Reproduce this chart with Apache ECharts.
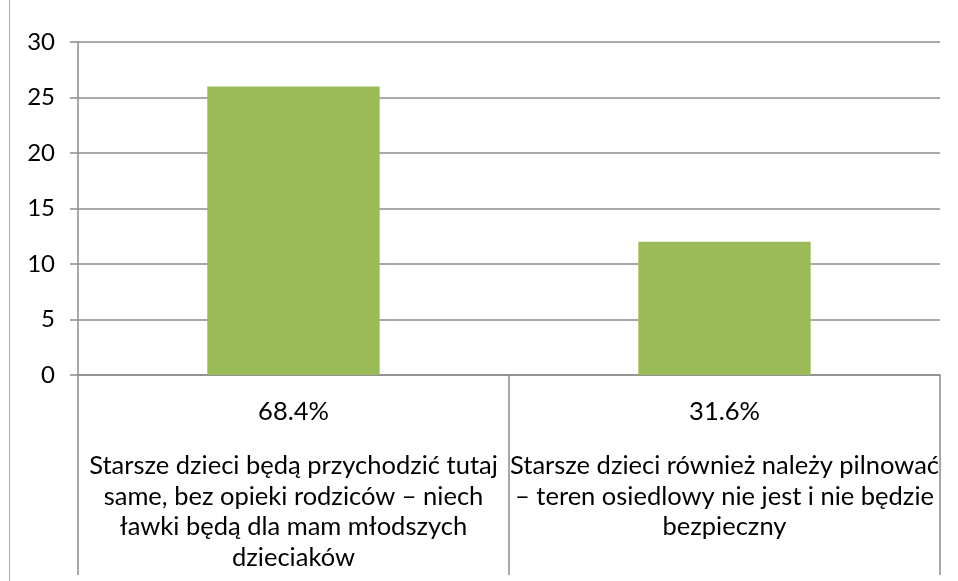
<!DOCTYPE html>
<html>
<head>
<meta charset="utf-8">
<script src="https://cdn.jsdelivr.net/npm/echarts@6/dist/echarts.min.js"></script>
<style>
  html, body { margin: 0; padding: 0; background: #fff; }
  #main { width: 958px; height: 581px; }
</style>
</head>
<body>
<div id="main"></div>
<script>
var chartDom = document.getElementById('main');
var myChart = echarts.init(chartDom);
var option;

const percents = ['68.4%', '31.6%'];
const answers = [
  'Starsze dzieci będą przychodzić tutaj\nsame, bez opieki rodziców – niech\nławki będą dla mam młodszych\ndzieciaków',
  'Starsze dzieci również należy pilnować\n– teren osiedlowy nie jest i nie będzie\nbezpieczny'
];
const counts = [26, 12];

const barColor = '#9BBB59';
const lineColor = '#8c8c8c';
const fontName = 'Lato, Carlito, "Open Sans", sans-serif';

option = {
  animation: false,
  backgroundColor: '#fff',
  grid: {
    left: 78,
    right: 18,
    top: 42,
    bottom: 206
  },
  graphic: [
    {
      type: 'line',
      shape: { x1: 9.5, y1: 0, x2: 9.5, y2: 581 },
      style: { stroke: '#a6a6a6', lineWidth: 1 }
    }
  ],
  xAxis: {
    type: 'category',
    data: percents,
    axisLine: { show: true, lineStyle: { color: lineColor, width: 1.5 } },
    axisTick: {
      show: true,
      inside: false,
      length: 200,
      lineStyle: { color: lineColor, width: 1.5 }
    },
    axisLabel: {
      margin: 23,
      interval: 0,
      formatter: function (value, idx) {
        return '{p|' + value + '}\n{gap|}\n{t|' + answers[idx].split('\n').join('}\n{t|') + '}';
      },
      rich: {
        p: { fontSize: 25.5, fontFamily: fontName, color: '#000', lineHeight: 28, align: 'center' },
        gap: { lineHeight: 25 },
        t: { fontSize: 25.5, fontFamily: fontName, color: '#000', lineHeight: 30.5, align: 'center' }
      }
    }
  },
  yAxis: {
    type: 'value',
    min: 0,
    max: 30,
    interval: 5,
    axisLine: { show: true, lineStyle: { color: lineColor, width: 1.5 } },
    axisTick: { show: true, length: 8, lineStyle: { color: lineColor, width: 1.5 } },
    axisLabel: {
      margin: 23,
      fontSize: 24,
      fontFamily: fontName,
      color: '#000'
    },
    splitLine: { show: true, lineStyle: { color: lineColor, width: 1.5 } }
  },
  series: [
    {
      type: 'bar',
      data: counts,
      barWidth: '40%',
      itemStyle: { color: barColor },
      silent: true
    }
  ]
};

option && myChart.setOption(option);
</script>
</body>
</html>
